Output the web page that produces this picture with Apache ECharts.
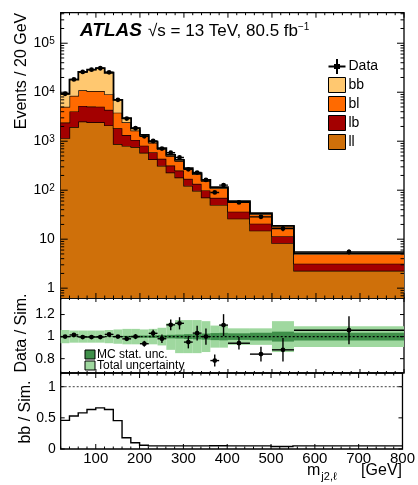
<!DOCTYPE html>
<html>
<head>
<meta charset="utf-8">
<script src="https://cdn.jsdelivr.net/npm/echarts@6/dist/echarts.min.js"></script>
<style>
  html, body { margin: 0; padding: 0; background: #fff; }
  #chart { width: 418px; height: 485px; }
</style>
</head>
<body>
<div id="chart"></div>
<script>
// Bin edges in GeV (20 GeV bins up to 400, wider bins above)
const binEdges = [20, 40, 60, 80, 100, 120, 140, 160, 180, 200, 220, 240, 260, 280, 300, 320, 340, 360, 380, 400, 450, 500, 550, 800];

// Simulated events / 20 GeV per flavour category (stacked bottom to top: ll, lb, bl, bb)
const llEvents = [1155, 1946, 2512, 2435, 2424, 2099, 877, 801, 762, 581, 428, 315, 229, 181, 123, 97, 71, 50, 50, 26.2, 14.9, 8.3, 2.27];
const lbEvents = [1256, 2115, 2730, 2646, 2635, 2281, 954, 534, 298, 228, 168, 123, 90, 71, 48, 38, 28, 20, 20, 10.3, 5.8, 3.2, 0.89];
const blEvents = [2611, 4399, 5678, 5504, 5481, 4745, 1984, 1092, 596, 455, 335, 246, 180, 142, 96, 76, 55, 39, 39, 20.5, 11.6, 6.5, 1.78];
const bbEvents = [4278, 9540, 15080, 18415, 20460, 15875, 3185, 533, 184, 81, 49, 36, 26, 21, 14, 11, 8, 6, 6, 3, 1.7, 0.75, 0.26];

// Observed data / 20 GeV and its statistical error
const dataEvents = [9300, 18270, 25900, 28880, 30880, 25500, 7000, 2900, 1840, 1258, 1009, 706, 581, 465, 267, 229, 162, 90, 127, 56.4, 28.6, 16.5, 5.5];
const dataErr = [93, 146, 181, 173, 185, 179, 84, 55, 42, 35, 32, 27, 26, 23, 16, 15, 12, 6.3, 11.4, 3.4, 2.3, 2.0, 0.66];

// Relative uncertainties on the simulation
const mcStatUnc = [0.004, 0.003, 0.003, 0.003, 0.003, 0.003, 0.005, 0.007, 0.009, 0.01, 0.012, 0.014, 0.016, 0.018, 0.022, 0.025, 0.028, 0.032, 0.034, 0.03, 0.035, 0.045, 0.035];
const totalUnc = [0.06, 0.055, 0.055, 0.055, 0.055, 0.06, 0.065, 0.07, 0.07, 0.065, 0.07, 0.08, 0.12, 0.15, 0.15, 0.15, 0.14, 0.10, 0.10, 0.075, 0.075, 0.14, 0.095];

// Tick values
const xTickValues = [100, 200, 300, 400, 500, 600, 700, 800];
const eventTickValues = [1, 10, 100, 1000, 10000, 100000];
const ratioTickValues = [0.8, 1, 1.2];
const fracTickValues = [0, 0.5, 1];

const seriesNames = ['ll', 'lb', 'bl', 'bb'];
const seriesColors = ['#CF700A', '#A30000', '#FF6A00', '#FFC870'];

const X_MIN = 20, X_MAX = 800;
const Y_MAIN = [0.63, 4.2e5];
const Y_RATIO = [0.67, 1.35];
const Y_FRAC = [0, 1.22];
const FONT = '"Liberation Sans", Arial, Helvetica, sans-serif';

const nBins = binEdges.length - 1;
const layers = [llEvents, lbEvents, blEvents, bbEvents];
const cumulative = [];
let running = new Array(nBins).fill(0);
layers.forEach(arr => { running = running.map((v, i) => v + arr[i]); cumulative.push(running.slice()); });
const simTotal = cumulative[cumulative.length - 1];
const dataOverSim = dataEvents.map((d, i) => d / simTotal[i]);
const dataOverSimErr = dataErr.map((e, i) => e / simTotal[i]);
const bbOverSim = bbEvents.map((b, i) => b / simTotal[i]);

const grids = [
  { left: 60.7, right: 14, top: 12.7, height: 285.3 },
  { left: 60.7, right: 14, top: 298, height: 75 },
  { left: 60.7, right: 14, top: 373, height: 76 }
].map(g => Object.assign(g, { show: true, borderColor: '#000', borderWidth: 1.3, backgroundColor: 'transparent', containLabel: false }));

function line(x1, y1, x2, y2, w, dash) {
  return { type: 'line', shape: { x1, y1, x2, y2 }, style: { stroke: '#000', lineWidth: w || 1, lineDash: dash || null } };
}

function xAxis(gi, withLabels) {
  return {
    type: 'value', gridIndex: gi, min: X_MIN, max: X_MAX,
    axisLine: { show: false }, axisTick: { show: false }, splitLine: { show: false },
    axisLabel: withLabels ? {
      customValues: xTickValues, formatter: v => String(v),
      fontSize: 15, fontFamily: FONT, color: '#000', margin: 2
    } : { show: false }
  };
}

const supRich = {
  sup: { fontSize: 10, fontFamily: FONT, color: '#000', verticalAlign: 'top', lineHeight: 10 }
};

const yAxes = [
  {
    type: 'log', logBase: 10, gridIndex: 0, min: Y_MAIN[0], max: Y_MAIN[1],
    axisLine: { show: false }, axisTick: { show: false }, splitLine: { show: false },
    axisLabel: {
      customValues: eventTickValues,
      formatter: v => {
        const n = Math.round(Math.log10(v));
        if (n === 0) return '1';
        if (n === 1) return '10';
        return '10{sup|' + n + '}';
      },
      fontSize: 14, fontFamily: FONT, color: '#000', margin: 6, rich: supRich
    }
  },
  {
    type: 'value', gridIndex: 1, min: Y_RATIO[0], max: Y_RATIO[1],
    axisLine: { show: false }, axisTick: { show: false }, splitLine: { show: false },
    axisLabel: {
      customValues: ratioTickValues, formatter: v => (Math.abs(v - 1) < 1e-9 ? '1' : v.toFixed(1)),
      fontSize: 14, fontFamily: FONT, color: '#000', margin: 6
    }
  },
  {
    type: 'value', gridIndex: 2, min: Y_FRAC[0], max: Y_FRAC[1],
    axisLine: { show: false }, axisTick: { show: false }, splitLine: { show: false },
    axisLabel: {
      customValues: fracTickValues, formatter: v => (v === 0.5 ? '0.5' : String(v)),
      fontSize: 14, fontFamily: FONT, color: '#000', margin: 5
    }
  }
];

// Tick marks on all four sides of a panel, placed through the panel's axes
function tickSeries(gi, yRef, yMajor, yMinor, yLen, xLen) {
  const xMinor = [];
  for (let v = 20; v <= 800; v += 20) if (v % 100 !== 0) xMinor.push(v);
  return {
    type: 'custom', xAxisIndex: gi, yAxisIndex: gi, silent: true, z: 20,
    data: [[400, yRef]],
    renderItem: (params, api) => {
      const cs = params.coordSys;
      const top = cs.y, bot = cs.y + cs.height, left = cs.x, right = cs.x + cs.width;
      const ch = [];
      xTickValues.forEach(v => {
        const px = api.coord([v, yRef])[0];
        ch.push(line(px, bot, px, bot - xLen[0]), line(px, top, px, top + xLen[0]));
      });
      xMinor.forEach(v => {
        const px = api.coord([v, yRef])[0];
        ch.push(line(px, bot, px, bot - xLen[1]), line(px, top, px, top + xLen[1]));
      });
      yMajor.forEach(v => {
        const py = api.coord([400, v])[1];
        ch.push(line(left, py, left + yLen[0], py), line(right, py, right - yLen[0], py));
      });
      yMinor.forEach(v => {
        const py = api.coord([400, v])[1];
        ch.push(line(left, py, left + yLen[1], py), line(right, py, right - yLen[1], py));
      });
      return { type: 'group', children: ch };
    }
  };
}

const logMinor = [];
for (let e = -1; e <= 5; e++) {
  for (let k = 2; k <= 9; k++) {
    const v = k * Math.pow(10, e);
    if (v > Y_MAIN[0] && v < Y_MAIN[1]) logMinor.push(v);
  }
}

// Stacked histogram layers
function layerSeries(k) {
  return {
    type: 'custom', name: seriesNames[k], xAxisIndex: 0, yAxisIndex: 0, clip: true, silent: true,
    z: 2 + k,
    itemStyle: { color: seriesColors[k] },
    data: [[400, 1]],
    renderItem: (params, api) => {
      const topVals = cumulative[k];
      const botVals = k > 0 ? cumulative[k - 1] : null;
      const topPts = [];
      for (let i = 0; i < nBins; i++) {
        topPts.push(api.coord([binEdges[i], topVals[i]]), api.coord([binEdges[i + 1], topVals[i]]));
      }
      const botPts = [];
      for (let i = nBins - 1; i >= 0; i--) {
        const yv = botVals ? botVals[i] : Y_MAIN[0];
        botPts.push(api.coord([binEdges[i + 1], yv]), api.coord([binEdges[i], yv]));
      }
      return {
        type: 'group', children: [
          { type: 'polygon', shape: { points: topPts.concat(botPts) }, style: { fill: seriesColors[k] } },
          { type: 'polyline', shape: { points: topPts }, style: { stroke: '#000', lineWidth: k === 3 ? 1.8 : 1.3, fill: null } }
        ]
      };
    }
  };
}

function pointSeries(gi, values, errs, name) {
  return {
    type: 'custom', name: name, xAxisIndex: gi, yAxisIndex: gi, clip: true, silent: true, z: 12,
    itemStyle: { color: '#000' },
    data: values.map((v, i) => [(binEdges[i] + binEdges[i + 1]) / 2, v, i]),
    renderItem: (params, api) => {
      const i = api.value(2);
      const v = api.value(1);
      const c = api.coord([api.value(0), v]);
      const l = api.coord([binEdges[i], v]);
      const r = api.coord([binEdges[i + 1], v]);
      const up = api.coord([api.value(0), v + errs[i]]);
      const dn = api.coord([api.value(0), Math.max(v - errs[i], 1e-3)]);
      return {
        type: 'group', children: [
          line(l[0], l[1], r[0], r[1], 1.4),
          line(up[0], up[1], dn[0], dn[1], 1.4),
          { type: 'circle', shape: { cx: c[0], cy: c[1], r: 2.4 }, style: { fill: '#000' } }
        ]
      };
    }
  };
}

function bandSeries(unc, color, z) {
  return {
    type: 'custom', xAxisIndex: 1, yAxisIndex: 1, clip: true, silent: true, z: z,
    data: unc.map((u, i) => [i, u]),
    renderItem: (params, api) => {
      const i = api.value(0), u = api.value(1);
      const a = api.coord([binEdges[i], 1 + u]);
      const b = api.coord([binEdges[i + 1], 1 - u]);
      return { type: 'rect', shape: { x: a[0], y: a[1], width: b[0] - a[0], height: b[1] - a[1] }, style: { fill: color } };
    }
  };
}

function refLineSeries(gi, color) {
  return {
    type: 'custom', xAxisIndex: gi, yAxisIndex: gi, silent: true, z: 9,
    data: [[400, 1]],
    renderItem: (params, api) => {
      const a = api.coord([X_MIN, 1]), b = api.coord([X_MAX, 1]);
      return { type: 'line', shape: { x1: a[0], y1: a[1], x2: b[0], y2: b[1] }, style: { stroke: color, lineWidth: 1.3, lineDash: [2, 2] } };
    }
  };
}

const fracSeries = {
  type: 'custom', xAxisIndex: 2, yAxisIndex: 2, clip: true, silent: true, z: 10,
  data: [[400, 0.5]],
  renderItem: (params, api) => {
    const pts = [];
    for (let i = 0; i < nBins; i++) {
      pts.push(api.coord([binEdges[i], bbOverSim[i]]), api.coord([binEdges[i + 1], bbOverSim[i]]));
    }
    return { type: 'polyline', shape: { points: pts }, style: { stroke: '#000', lineWidth: 1.4, fill: null } };
  }
};

const series = [
  layerSeries(0), layerSeries(1), layerSeries(2), layerSeries(3),
  pointSeries(0, dataEvents, dataErr, 'Data'),
  tickSeries(0, 10, eventTickValues, logMinor, [7, 3.5], [5, 2.5]),
  bandSeries(totalUnc, '#9FD89F', 3),
  bandSeries(mcStatUnc, '#3F8F4A', 4),
  refLineSeries(1, '#000'),
  pointSeries(1, dataOverSim, dataOverSimErr, 'ratio'),
  tickSeries(1, 1, ratioTickValues, [], [4, 2], [4, 2]),
  refLineSeries(2, '#666'),
  fracSeries,
  tickSeries(2, 0.5, fracTickValues, [], [4, 2], [5, 2.5])
];

function rotatedTitle(text, x, y) {
  return {
    type: 'text', x: x, y: y, rotation: Math.PI / 2, silent: true,
    style: { text: text, fontSize: 16, fontFamily: FONT, fill: '#000', align: 'center', verticalAlign: 'middle' }
  };
}

const graphic = [
  { type: 'text', x: 80, y: 31, silent: true,
    style: { text: 'ATLAS', fontSize: 19, fontWeight: 'bold', fontStyle: 'italic', fontFamily: FONT, fill: '#000', verticalAlign: 'middle' } },
  { type: 'text', x: 148, y: 31, silent: true,
    style: { text: '\u221As = 13 TeV, 80.5 fb{sup|\u22121}', fontSize: 17, fontFamily: FONT, fill: '#000', verticalAlign: 'middle',
      rich: { sup: { fontSize: 10, fontFamily: FONT, verticalAlign: 'top', lineHeight: 10 } } } },
  rotatedTitle('Events / 20 GeV', 22, 71),
  rotatedTitle('Data / Sim.', 22, 333),
  rotatedTitle('bb / Sim.', 26, 412),
  { type: 'text', x: 307, y: 471, silent: true,
    style: { text: 'm{sub|j2,\u2113}', fontSize: 16, fontFamily: FONT, fill: '#000', verticalAlign: 'middle',
      rich: { sub: { fontSize: 11, fontFamily: FONT, verticalAlign: 'bottom', lineHeight: 11, padding: [0, 0, -3, 1] } } } },
  { type: 'text', x: 402, y: 471, silent: true,
    style: { text: '[GeV]', fontSize: 16, fontFamily: FONT, fill: '#000', align: 'right', verticalAlign: 'middle' } },
  // uncertainty key inside the ratio panel
  { type: 'rect', shape: { x: 85, y: 350, width: 10, height: 9 }, silent: true, style: { fill: '#3F8F4A', stroke: '#000', lineWidth: 1 } },
  { type: 'text', x: 97, y: 355, silent: true, style: { text: 'MC stat. unc.', fontSize: 12, fontFamily: FONT, fill: '#000', verticalAlign: 'middle' } },
  { type: 'rect', shape: { x: 85, y: 361, width: 10, height: 9 }, silent: true, style: { fill: '#9FD89F', stroke: '#000', lineWidth: 1 } },
  { type: 'text', x: 97, y: 366, silent: true, style: { text: 'Total uncertainty', fontSize: 12, fontFamily: FONT, fill: '#000', verticalAlign: 'middle' } }
];

const legend = {
  orient: 'vertical', left: 323, top: 54, itemWidth: 17, itemHeight: 15, itemGap: 3,
  selectedMode: false,
  textStyle: { fontSize: 14, fontFamily: FONT, color: '#000', padding: [0, 0, 0, -2] },
  data: [
    { name: 'Data', icon: 'path://M0,6.5h17v2h-17z M7.5,0h2v15h-2z M5.5,5h6v5h-6z', itemStyle: { color: '#000', borderWidth: 0 } },
    { name: 'bb', icon: 'rect', itemStyle: { color: seriesColors[3], borderColor: '#000', borderWidth: 1 } },
    { name: 'bl', icon: 'rect', itemStyle: { color: seriesColors[2], borderColor: '#000', borderWidth: 1 } },
    { name: 'lb', icon: 'rect', itemStyle: { color: seriesColors[1], borderColor: '#000', borderWidth: 1 } },
    { name: 'll', icon: 'rect', itemStyle: { color: seriesColors[0], borderColor: '#000', borderWidth: 1 } }
  ]
};

const chart = echarts.init(document.getElementById('chart'), null, { renderer: 'canvas' });
chart.setOption({
  animation: false,
  backgroundColor: '#fff',
  grid: grids,
  xAxis: [xAxis(0, false), xAxis(1, false), xAxis(2, true)],
  yAxis: yAxes,
  legend: legend,
  series: series,
  graphic: graphic
});
</script>
</body>
</html>
